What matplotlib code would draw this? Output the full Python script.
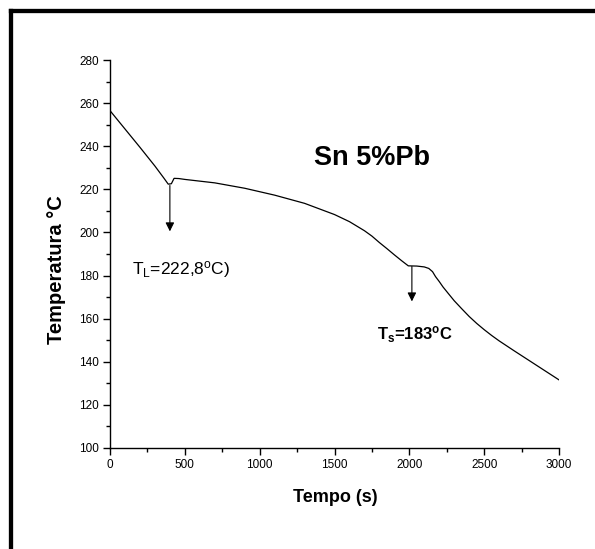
import matplotlib
matplotlib.use("Agg")
import matplotlib.pyplot as plt
from matplotlib.lines import Line2D

plt.rcParams['font.family'] = ['Liberation Sans', 'DejaVu Sans']
plt.rcParams['mathtext.fontset'] = 'custom'

# dados
tempo = [0, 100, 200, 300, 360, 389, 410, 428, 460, 500, 700, 900, 1100, 1300,
         1500, 1600, 1700, 1750, 1800, 1850, 1900, 1950, 1993, 2050, 2100, 2130,
         2155, 2175, 2200, 2225, 2260, 2300, 2350, 2400, 2450, 2500, 2550, 2600,
         2650, 2700, 2800, 2900, 3000]
temperatura = [256.5, 248.0, 239.5, 230.8, 225.2, 222.4, 222.6, 225.1, 225.0, 224.6,
               223.0, 220.5, 217.3, 213.5, 208.3, 205.0, 200.8, 198.3, 195.3, 192.5,
               189.6, 186.8, 184.5, 184.4, 184.0, 183.3, 181.8, 179.5, 177.2, 174.7,
               171.7, 168.3, 164.6, 161.0, 157.8, 154.9, 152.2, 149.7, 147.4, 145.1,
               140.6, 136.1, 131.6]

xticks = [0, 500, 1000, 1500, 2000, 2500, 3000]
yticks = [100, 120, 140, 160, 180, 200, 220, 240, 260, 280]

fig = plt.figure(figsize=(5.95, 5.49), dpi=100)
ax = fig.add_axes([0.1849, 0.184, 0.7546, 0.7067])
ax.plot(tempo, temperatura, color="k", lw=0.9)

ax.set_xlim(0, 3000)
ax.set_ylim(100, 280)
ax.set_xticks(xticks)
ax.set_yticks(yticks)
ax.set_xticks([250, 750, 1250, 1750, 2250, 2750], minor=True)
ax.set_yticks([110, 130, 150, 170, 190, 210, 230, 250, 270], minor=True)
ax.spines["right"].set_color("none")
ax.spines["top"].set_color("none")
ax.spines["left"].set_linewidth(1.0)
ax.spines["bottom"].set_linewidth(1.0)
ax.tick_params(which="major", direction="out", length=5, width=1.0, labelsize=8.5, pad=3)
ax.tick_params(which="minor", direction="out", length=3, width=1.0)

ax.set_xlabel("Tempo (s)", fontsize=13, fontweight="bold")
ax.set_ylabel("Temperatura °C", fontsize=14.5, fontweight="bold")
ax.xaxis.set_label_coords(0.501, -0.105)
ax.yaxis.set_label_coords(-0.098, 0.46)

# título
ax.text(1750, 234.5, "Sn 5%Pb", fontsize=19.5, fontweight="bold",
        ha="center", va="center")

# setas
ax.annotate("", xy=(400, 200.5), xytext=(400, 221.8),
            arrowprops=dict(arrowstyle="-|>", color="k", lw=0.8,
                            mutation_scale=13, shrinkA=0, shrinkB=0))
ax.annotate("", xy=(2017, 168), xytext=(2017, 184.2),
            arrowprops=dict(arrowstyle="-|>", color="k", lw=0.8,
                            mutation_scale=13, shrinkA=0, shrinkB=0))

ax.text(147, 180.7, r"T$\mathregular{_L}$=222,8$\mathregular{^o}$C)", fontsize=12.5,
        ha="left", va="baseline")
ax.text(1784, 150.1, r"T$\mathregular{_s}$=183$\mathregular{^o}$C", fontsize=12,
        fontweight="bold", ha="left", va="baseline")

# moldura
fig.add_artist(Line2D([10.5 / 595, 1], [1 - 10.5 / 549, 1 - 10.5 / 549],
                      transform=fig.transFigure, color="k", lw=3.1))
fig.add_artist(Line2D([10.5 / 595, 10.5 / 595], [0, 1 - 10.5 / 549],
                      transform=fig.transFigure, color="k", lw=3.1))

fig.savefig("out.png", dpi=100)
